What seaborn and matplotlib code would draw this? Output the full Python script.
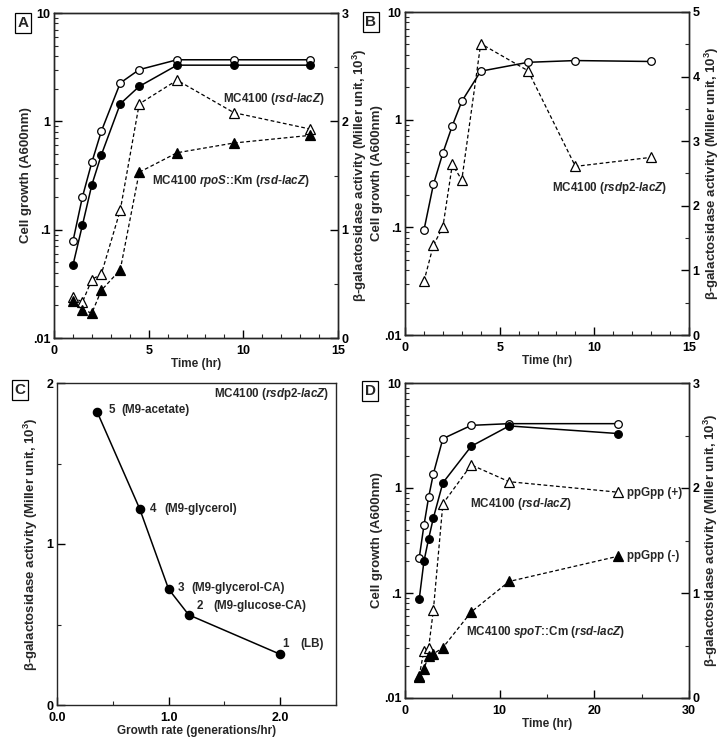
import numpy as np
import pandas as pd
import matplotlib
matplotlib.use("Agg")
import matplotlib.pyplot as plt
import matplotlib.ticker as mticker
import seaborn as sns

# ---- data ----
# Panel A
time_a = [1, 1.5, 2, 2.5, 3.5, 4.5, 6.5, 9.5, 13.5]
growth_wt_a = [0.078, 0.2, 0.42, 0.81, 2.26, 3.0, 3.7, 3.7, 3.7]
growth_rpos_a = [0.047, 0.11, 0.26, 0.49, 1.45, 2.1, 3.3, 3.3, 3.3]
activity_wt_a = [0.38, 0.33, 0.54, 0.59, 1.18, 2.16, 2.38, 2.08, 1.93]
activity_rpos_a = [0.34, 0.26, 0.23, 0.44, 0.63, 1.53, 1.71, 1.80, 1.87]

# Panel B
time_b = [1, 1.5, 2, 2.5, 3, 4, 6.5, 9, 13]
growth_b = [0.094, 0.25, 0.49, 0.88, 1.48, 2.82, 3.41, 3.54, 3.47]
activity_b = [0.83, 1.39, 1.67, 2.64, 2.40, 4.51, 4.09, 2.61, 2.75]

# Panel C
growth_rate_c = [2.0, 1.18, 1.0, 0.74, 0.36]
activity_c = [0.315, 0.56, 0.72, 1.22, 1.82]
media_num_c = ["1", "2", "3", "4", "5"]
media_c = ["(LB)", "(M9-glucose-CA)", "(M9-glycerol-CA)", "(M9-glycerol)", "(M9-acetate)"]

# Panel D
time_d = [1.5, 2, 2.5, 3, 4, 7, 11, 22.5]
growth_wt_d = [0.215, 0.44, 0.82, 1.37, 2.95, 3.95, 4.1, 4.1]
growth_spot_d = [0.087, 0.2, 0.33, 0.52, 1.12, 2.5, 3.9, 3.3]
activity_wt_d = [0.21, 0.45, 0.48, 0.84, 1.85, 2.22, 2.06, 1.96]
activity_spot_d = [0.2, 0.28, 0.40, 0.42, 0.48, 0.82, 1.11, 1.35]

log_ticks = [0.01, 0.1, 1, 10]
log_labels = [".01", ".1", "1", "10"]

sns.set_style("ticks")
plt.rcParams["font.family"] = ["Liberation Sans", "DejaVu Sans"]
plt.rcParams["font.weight"] = "bold"
plt.rcParams["mathtext.fontset"] = "custom"
plt.rcParams["mathtext.rm"] = "Liberation Sans:bold"
plt.rcParams["mathtext.bf"] = "Liberation Sans:bold"
plt.rcParams["mathtext.it"] = "Liberation Sans:italic:bold"
plt.rcParams["xtick.direction"] = "in"
plt.rcParams["ytick.direction"] = "in"
plt.rcParams["axes.linewidth"] = 1.0

TICK_FS = 9
XLAB_FS = 8.5
YLAB_FS = 9.5
ANN_FS = 8.4
RIGHT_LABEL = "\u03b2-galactosidase activity (Miller unit, 10$^3$)"

fig = plt.figure(figsize=(7.28, 7.45), dpi=100)


def rect(l, t, r, b):
    return [l / 728, 1 - b / 745, (r - l) / 728, (b - t) / 745]


def style_ticks(ax):
    ax.tick_params(which="major", length=6, width=1, labelsize=TICK_FS, colors="black", pad=2.5)
    ax.tick_params(which="minor", length=3, width=0.8)
    ax.tick_params(axis="x", pad=5)
    for lab in ax.get_xticklabels() + ax.get_yticklabels():
        lab.set_fontweight("bold")


def growth_axis(ax, xmax, xmajor, xminor):
    ax.set_yscale("log")
    ax.set_ylim(0.01, 10)
    ax.yaxis.set_major_locator(mticker.FixedLocator(log_ticks))
    ax.yaxis.set_major_formatter(mticker.FixedFormatter(log_labels))
    ax.yaxis.set_minor_locator(mticker.LogLocator(base=10, subs=np.arange(2, 10)))
    ax.yaxis.set_minor_formatter(mticker.NullFormatter())
    ax.set_xlim(0, xmax)
    ax.xaxis.set_major_locator(mticker.MultipleLocator(xmajor))
    ax.xaxis.set_minor_locator(mticker.MultipleLocator(xminor))
    ax.set_xlabel("Time (hr)", fontsize=XLAB_FS, fontweight="bold", labelpad=1)
    ax.set_ylabel("Cell growth (A600nm)", fontsize=YLAB_FS, fontweight="bold", labelpad=1)
    style_ticks(ax)


def activity_axis(ax2, ymax):
    ax2.set_ylim(0, ymax)
    ax2.yaxis.set_major_locator(mticker.MultipleLocator(1))
    ax2.yaxis.set_minor_locator(mticker.MultipleLocator(0.5))
    ax2.set_ylabel(RIGHT_LABEL, fontsize=YLAB_FS, fontweight="bold", labelpad=2)
    style_ticks(ax2)


def draw(ax, x, y, marker, filled, dashed, ms=5.5):
    sns.lineplot(x=x, y=y, ax=ax, color="black", marker=marker,
                 markersize=ms, markerfacecolor="black" if filled else "white",
                 markeredgecolor="black", markeredgewidth=0.9,
                 linewidth=0.9 if dashed else 1.1,
                 linestyle=(0, (3, 2)) if dashed else "-",
                 sort=False, estimator=None)


def panel_letter(x, y, s):
    fig.text(x / 728, 1 - y / 745, s, fontsize=11, fontweight="bold", ha="center", va="center",
             bbox=dict(boxstyle="square,pad=0.18", fc="white", ec="black", lw=0.9))


# ---- Panel A ----
ax_a = fig.add_axes(rect(54, 13, 338, 338))
growth_axis(ax_a, 15, 5, 1)
draw(ax_a, time_a, growth_wt_a, "o", False, False)
draw(ax_a, time_a, growth_rpos_a, "o", True, False)
ax_a2 = ax_a.twinx()
activity_axis(ax_a2, 3)
draw(ax_a2, time_a, activity_wt_a, "^", False, True, ms=6.5)
draw(ax_a2, time_a, activity_rpos_a, "^", True, True, ms=6.5)
ax_a2.text(8.9, 2.21, "MC4100 ($\\mathit{rsd}$-$\\mathit{lacZ}$)", fontsize=ANN_FS,
           fontweight="bold", va="center")
ax_a2.text(5.15, 1.45, "MC4100 $\\mathit{rpoS}$::Km ($\\mathit{rsd}$-$\\mathit{lacZ}$)",
           fontsize=ANN_FS, fontweight="bold", va="center")
panel_letter(23, 23, "A")

# ---- Panel B ----
ax_b = fig.add_axes(rect(405, 12, 689, 335))
growth_axis(ax_b, 15, 5, 1)
draw(ax_b, time_b, growth_b, "o", False, False)
ax_b2 = ax_b.twinx()
activity_axis(ax_b2, 5)
draw(ax_b2, time_b, activity_b, "^", False, True, ms=6.5)
ax_b2.text(7.75, 2.27, "MC4100 ($\\mathit{rsd}$p2-$\\mathit{lacZ}$)", fontsize=ANN_FS,
           fontweight="bold", va="center")
panel_letter(371, 22, "B")

# ---- Panel C ----
ax_c = fig.add_axes(rect(57, 383, 336, 705))
draw(ax_c, growth_rate_c, activity_c, "o", True, False, ms=6)
ax_c.set_xlim(0, 2.5)
ax_c.set_ylim(0, 2)
ax_c.xaxis.set_major_locator(mticker.FixedLocator([0, 1, 2]))
ax_c.xaxis.set_major_formatter(mticker.FormatStrFormatter("%.1f"))
ax_c.xaxis.set_minor_locator(mticker.MultipleLocator(0.5))
ax_c.yaxis.set_major_locator(mticker.MultipleLocator(1))
ax_c.yaxis.set_minor_locator(mticker.MultipleLocator(0.5))
ax_c.set_xlabel("Growth rate (generations/hr)", fontsize=XLAB_FS, fontweight="bold", labelpad=1)
ax_c.set_ylabel(RIGHT_LABEL, fontsize=YLAB_FS, fontweight="bold", labelpad=5)
style_ticks(ax_c)
num_off = [(2, 10), (8, 9), (9, 1), (10, 0), (11, 2)]
lab_off = [(20, 10), (25, 9), (23, 1), (25, 0), (24, 2)]
for gx, gy, n, m, no, lo in zip(growth_rate_c, activity_c, media_num_c, media_c, num_off, lab_off):
    ax_c.annotate(n, (gx, gy), xytext=no, textcoords="offset pixels", fontsize=ANN_FS,
                  fontweight="bold", ha="left", va="center")
    ax_c.annotate(m, (gx, gy), xytext=lo, textcoords="offset pixels", fontsize=ANN_FS,
                  fontweight="bold", ha="left", va="center")
ax_c.text(2.44, 1.93, "MC4100 ($\\mathit{rsd}$p2-$\\mathit{lacZ}$)", fontsize=ANN_FS,
          fontweight="bold", ha="right", va="center")
panel_letter(20, 390, "C")

# ---- Panel D ----
ax_d = fig.add_axes(rect(405, 383, 689, 698))
growth_axis(ax_d, 30, 10, 5)
draw(ax_d, time_d, growth_wt_d, "o", False, False)
draw(ax_d, time_d, growth_spot_d, "o", True, False)
ax_d2 = ax_d.twinx()
activity_axis(ax_d2, 3)
draw(ax_d2, time_d, activity_wt_d, "^", False, True, ms=6.5)
draw(ax_d2, time_d, activity_spot_d, "^", True, True, ms=6.5)
ax_d2.text(6.9, 1.85, "MC4100 ($\\mathit{rsd}$-$\\mathit{lacZ}$)", fontsize=ANN_FS,
           fontweight="bold", va="center")
ax_d2.text(6.4, 0.63, "MC4100 $\\mathit{spoT}$::Cm ($\\mathit{rsd}$-$\\mathit{lacZ}$)",
           fontsize=ANN_FS, fontweight="bold", va="center")
ax_d2.text(23.4, 1.95, "ppGpp (+)", fontsize=ANN_FS, fontweight="bold", va="center")
ax_d2.text(23.4, 1.35, "ppGpp (-)", fontsize=ANN_FS, fontweight="bold", va="center")
panel_letter(370, 391, "D")

fig.savefig("out.png", dpi=100)
